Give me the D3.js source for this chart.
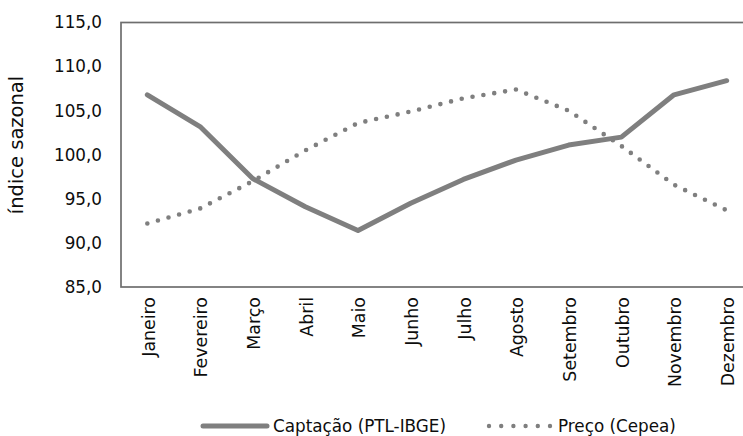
<!DOCTYPE html>
<html>
<head>
<meta charset="utf-8">
<script src="https://cdn.jsdelivr.net/npm/d3@7"></script>
<style>
  html, body { margin: 0; padding: 0; background: #fff; }
  svg { display: block; }
  text { font-family: "DejaVu Sans", sans-serif; fill: #0d0d0d; }
</style>
</head>
<body>
<svg id="chart" width="743" height="436"></svg>
<script>
// Índice sazonal mensal: captação de leite (PTL-IBGE) e preço ao produtor (Cepea)
const months = ["Janeiro", "Fevereiro", "Março", "Abril", "Maio", "Junho",
                "Julho", "Agosto", "Setembro", "Outubro", "Novembro", "Dezembro"];
const captacao = [106.8, 103.2, 97.3, 94.1, 91.4, 94.5, 97.2, 99.4, 101.1, 102.0, 106.8, 108.4];
const preco    = [92.2, 93.9, 97.0, 100.5, 103.6, 104.9, 106.4, 107.4, 105.0, 101.0, 96.6, 93.7];
const yTicks   = [85, 90, 95, 100, 105, 110, 115];
const seriesNames = ["Captação (PTL-IBGE)", "Preço (Cepea)"];
const yTitle = "índice sazonal";

const svg = d3.select("#chart");
const plot = { left: 121, right: 753, top: 22.5, bottom: 287 };
const grey = "#7f7f7f";
const ink = "#0d0d0d";

const x = d3.scaleBand().domain(months).range([plot.left, plot.right]).padding(0);
const y = d3.scaleLinear().domain([85, 115]).range([plot.bottom, plot.top]);

const ptBR = d3.formatLocale({ decimal: ",", thousands: ".", grouping: [3], currency: ["R$", ""] });
const fmt = ptBR.format(".1f");

// plot area border
svg.append("rect")
  .attr("x", plot.left).attr("y", plot.top)
  .attr("width", plot.right - plot.left).attr("height", plot.bottom - plot.top)
  .attr("fill", "none").attr("stroke", "#6e6e6e").attr("stroke-width", 1.7);

// y axis labels (no tick marks)
const yAxis = d3.axisLeft(y).tickValues(yTicks).tickFormat(fmt).tickSize(0).tickPadding(0);
const gy = svg.append("g").attr("transform", `translate(${plot.left - 19},0)`).call(yAxis);
gy.select(".domain").remove();
gy.selectAll("text")
  .style("font-family", "'DejaVu Sans', sans-serif")
  .style("font-size", "16.8px").attr("fill", ink);

// x axis month labels, rotated
const xAxis = d3.axisBottom(x).tickSize(0).tickPadding(0);
const gx = svg.append("g").attr("transform", `translate(0,${plot.bottom})`).call(xAxis);
gx.select(".domain").remove();
gx.selectAll("text")
  .style("font-family", "'DejaVu Sans', sans-serif")
  .style("font-size", "17.4px").attr("fill", ink)
  .attr("text-anchor", "end")
  .attr("transform", "rotate(-90)")
  .attr("x", -10).attr("y", 1).attr("dy", "0.36em");

// y axis title
svg.append("text")
  .attr("transform", `translate(23,145) rotate(-90)`)
  .attr("text-anchor", "middle")
  .style("font-size", "19.5px")
  .text(yTitle);

// series lines
const line = d3.line()
  .x((d, i) => x(months[i]) + x.bandwidth() / 2)
  .y(d => y(d));

svg.append("path").datum(captacao)
  .attr("d", line).attr("fill", "none")
  .attr("stroke", grey).attr("stroke-width", 5)
  .attr("stroke-linejoin", "round").attr("stroke-linecap", "round");

svg.append("path").datum(preco)
  .attr("d", line).attr("fill", "none")
  .attr("stroke", grey).attr("stroke-width", 4.6)
  .attr("stroke-linecap", "round")
  .attr("stroke-dasharray", "0 11");

// legend
const legY = 426;
const leg = svg.append("g");
leg.append("line").attr("x1", 203).attr("x2", 267).attr("y1", legY).attr("y2", legY)
  .attr("stroke", grey).attr("stroke-width", 5).attr("stroke-linecap", "round");
leg.append("text").attr("x", 273).attr("y", legY).attr("dy", "0.36em")
  .style("font-size", "16.8px").text(seriesNames[0]);
leg.append("line").attr("x1", 489).attr("x2", 550).attr("y1", legY).attr("y2", legY)
  .attr("stroke", grey).attr("stroke-width", 4.4).attr("stroke-linecap", "round")
  .attr("stroke-dasharray", "0 12.2");
leg.append("text").attr("x", 558).attr("y", legY).attr("dy", "0.36em")
  .style("font-size", "16.8px").text(seriesNames[1]);
</script>
</body>
</html>
